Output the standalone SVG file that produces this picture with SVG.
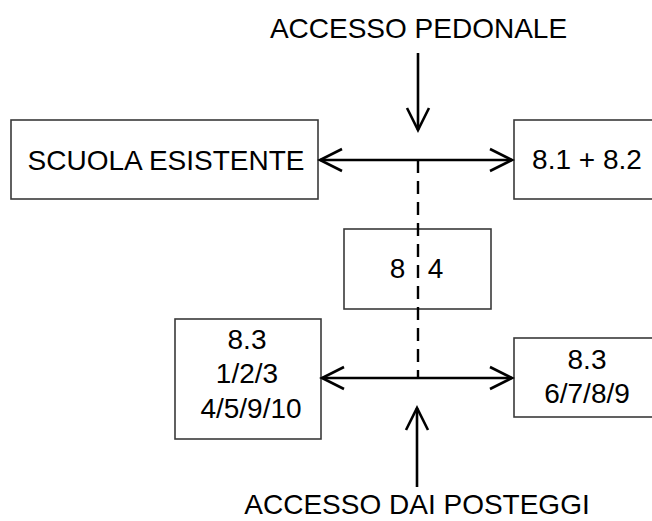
<svg xmlns="http://www.w3.org/2000/svg" width="652" height="521" viewBox="0 0 652 521">
<style>
.box{fill:#fff;stroke:#3a3a3a;stroke-width:1.6}
.t{font-family:"Liberation Sans",Arial,sans-serif;font-size:28px;fill:#000;text-anchor:middle}
.ln{stroke:#000;stroke-width:2.6;fill:none}
.dash{stroke:#000;stroke-width:2.4;fill:none;stroke-dasharray:13 8}
</style>
<defs>
<marker id="ah" markerUnits="userSpaceOnUse" markerWidth="30" markerHeight="30" viewBox="-26 -14 30 28" refX="0" refY="0" orient="auto-start-reverse">
<path d="M-22,-11 L0,0 L-22,11" fill="none" stroke="#000" stroke-width="2.6"/>
</marker>
</defs>
<g id="label-top"><text class="t" x="418.5" y="38">ACCESSO PEDONALE</text></g>
<g id="label-bottom"><text class="t" x="417" y="514">ACCESSO DAI POSTEGGI</text></g>
<g id="node-scuola"><rect class="box" x="11" y="120" width="307" height="79"/><text class="t" x="166" y="170">SCUOLA ESISTENTE</text></g>
<g id="node-81-82"><rect class="box" x="514" y="120" width="146" height="79"/><text class="t" x="587" y="169">8.1 + 8.2</text></g>
<g id="node-84"><rect class="box" x="344" y="229" width="147" height="80"/><text class="t" y="278"><tspan x="397.5">8</tspan><tspan x="435.5">4</tspan></text></g>
<g id="node-83a"><rect class="box" x="175" y="319" width="146" height="120"/><text class="t" x="247" y="349">8.3</text><text class="t" x="247" y="383">1/2/3</text><text class="t" x="251" y="418">4/5/9/10</text></g>
<g id="node-83b"><rect class="box" x="514" y="338" width="146" height="79"/><text class="t" x="587" y="369">8.3</text><text class="t" x="587" y="403">6/7/8/9</text></g>
<g id="connectors">
<line class="ln" x1="418" y1="53" x2="418" y2="130" marker-end="url(#ah)"/>
<line class="ln" x1="320" y1="160" x2="512" y2="160" marker-start="url(#ah)" marker-end="url(#ah)"/>
<line class="dash" x1="418" y1="160" x2="418" y2="378"/>
<line class="ln" x1="322" y1="378" x2="512" y2="378" marker-start="url(#ah)" marker-end="url(#ah)"/>
<line class="ln" x1="417" y1="487" x2="417" y2="408" marker-end="url(#ah)"/>
</g>
</svg>
